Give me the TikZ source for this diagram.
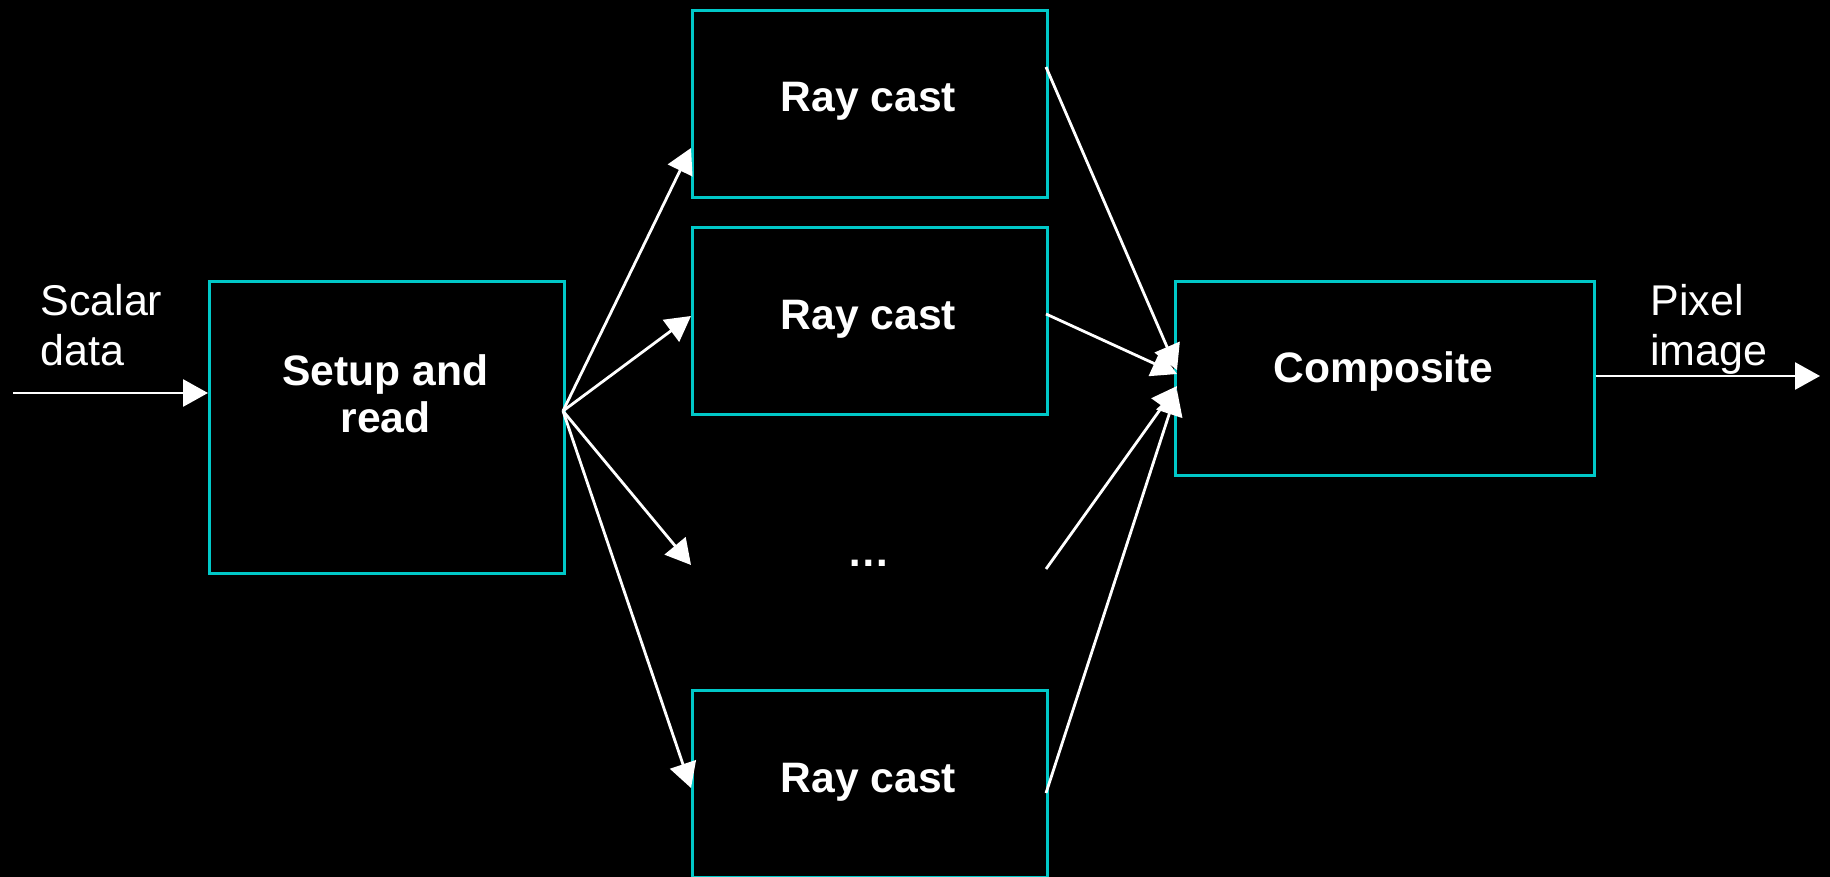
\documentclass[tikz,border=0pt]{standalone}
\usepackage{fontspec}
\setmainfont{Liberation Sans}
\usetikzlibrary{arrows.meta}
\definecolor{boxcyan}{RGB}{0,200,200}
\begin{document}
\begin{tikzpicture}[x=0.5pt,y=-0.5pt,
  box/.style={draw=boxcyan, line width=1.3pt, inner sep=0pt, anchor=north west},
  conn/.style={draw=white, line width=1.4pt, -{Triangle[length=12.5pt,width=13.5pt]}},
  lbl/.style={text=white, font=\fontsize{21.3}{23.5}\selectfont\bfseries, inner sep=0pt, align=center, anchor=base},
  side/.style={text=white, font=\fontsize{21.5}{25}\selectfont, inner sep=0pt, align=left, anchor=base west}]
\fill[black] (0,0) rectangle (1830,877);
\useasboundingbox (0,0) rectangle (1830,877);

% boxes
\node[box, minimum width=177.5pt, minimum height=146pt] (setup) at (208,280) {};
\node[box, minimum width=177.5pt, minimum height=93.5pt] (rc1) at (691,9) {};
\node[box, minimum width=177.5pt, minimum height=93.5pt] (rc2) at (691,226) {};
\node[box, minimum width=177.5pt, minimum height=93.5pt] (rc3) at (691,689) {};
\node[box, minimum width=209.5pt, minimum height=97pt] (comp) at (1174,280) {};

% labels (base anchor = baseline of last line)
\node[lbl] (setuptxt) at (385.5,432) {Setup and\\read};
\node[lbl] (rc1txt) at (868.5,112) {Ray cast};
\node[lbl] (rc2txt) at (868.5,329) {Ray cast};
\node[lbl] (rc3txt) at (868.5,792) {Ray cast};
\node[lbl] (dots) at (868.5,566) {…};
\node[lbl] (comptxt) at (1383.5,382) {Composite};
\node[side] (scalar) at (40,365) {Scalar\\data};
\node[side] (pixel) at (1650,365) {Pixel\\image};

% connector points
\coordinate (in) at (13,393);
\coordinate (fan) at (563,411);
\coordinate (t1) at (691,148);
\coordinate (t2) at (691,316);
\coordinate (t3) at (691,565);
\coordinate (t4) at (691,788);
\coordinate (s1) at (1046,67);
\coordinate (s2) at (1046,314);
\coordinate (s3) at (1046,569);
\coordinate (s4) at (1046,793);
\coordinate (c1) at (1177,370);
\coordinate (c2) at (1177,374);
\coordinate (c3) at (1177,386);
\coordinate (c4) at (1177,390);
\coordinate (out) at (1820,376);

% connectors
\draw[conn] (in) -- (in -| setup.west);
\draw[conn] (fan) -- (t1);
\draw[conn] (fan) -- (t2);
\draw[conn] (fan) -- (t3);
\draw[conn] (fan) -- (t4);
\draw[conn] (s1) -- (c1);
\draw[conn] (s2) -- (c2);
\draw[conn] (s3) -- (c3);
\draw[conn] (s4) -- (c4);
\draw[conn] (out -| comp.east) -- (out);
\end{tikzpicture}
\end{document}
